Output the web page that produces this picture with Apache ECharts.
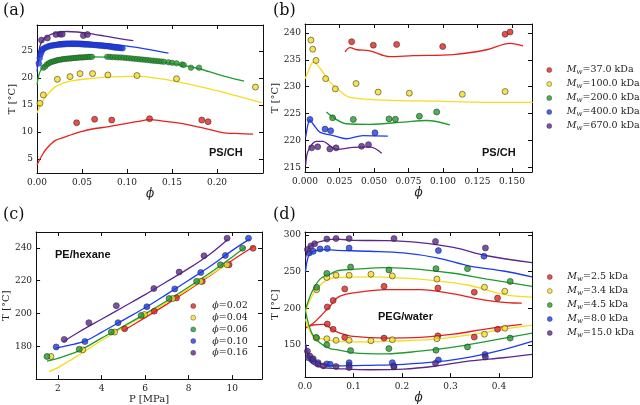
<!DOCTYPE html>
<html><head><meta charset="utf-8">
<script src="https://cdn.jsdelivr.net/npm/echarts@6/dist/echarts.min.js"></script>
<style>html,body{margin:0;padding:0;background:#fff}#c{width:640px;height:405px}</style>
</head><body><div id="c"></div>
<script>
// ---------- Panel (a): PS/CH, T vs phi ----------
const aRedPts = [[0.044,11.7],[0.064,12.35],[0.083,12.2],[0.125,12.45],[0.183,12.2],[0.190,11.9]];
const aRedLine = [[0,3.9],[0.005,5.5],[0.01,6.8],[0.02,8.4],[0.03,9.0],[0.04,9.6],[0.05,10.1],[0.06,10.5],[0.08,11.0],[0.10,11.6],[0.12,12.2],[0.125,12.3],[0.14,12.0],[0.16,11.6],[0.18,10.9],[0.20,10.1],[0.21,9.8],[0.225,9.7],[0.24,9.6]];
const aYelPts = [[0.0033,15.3],[0.007,16.85],[0.0226,19.75],[0.0367,20.25],[0.0478,20.8],[0.0617,20.8],[0.0787,20.55],[0.111,20.45],[0.155,19.85],[0.2426,18.3]];
const aYelLine = [[0,13.5],[0.005,15.3],[0.01,16.6],[0.02,18.3],[0.03,19.1],[0.04,19.5],[0.06,19.9],[0.08,20.2],[0.10,20.3],[0.115,20.3],[0.13,20.0],[0.15,19.5],[0.17,18.8],[0.19,18.0],[0.21,17.2],[0.23,16.3],[0.25,15.4]];
const aGrnPts = [[0.007,21.9],[0.009,22.1],[0.011,22.5],[0.013,22.7],[0.015,22.9],[0.017,23.0],[0.019,23.1],[0.021,23.2],[0.023,23.3],[0.025,23.35],[0.027,23.4],[0.029,23.5],[0.031,23.5],[0.033,23.55],[0.035,23.6],[0.037,23.6],[0.039,23.65],[0.041,23.7],[0.043,23.7],[0.045,23.75],[0.047,23.8],[0.049,23.8],[0.051,23.8],[0.053,23.85],[0.055,23.85],[0.057,23.9],[0.059,23.9],[0.061,23.9],
  [0.078,23.9],[0.081,23.9],[0.084,23.85],[0.087,23.85],[0.090,23.8],[0.093,23.8],[0.096,23.75],[0.099,23.7],[0.102,23.65],[0.105,23.6],[0.108,23.55],[0.111,23.5],[0.114,23.45],[0.117,23.4],[0.120,23.35],[0.123,23.3],[0.126,23.25],[0.129,23.2],[0.132,23.15],[0.135,23.1],[0.138,23.05],[0.141,23.0],[0.146,22.9],[0.150,22.8],[0.155,22.7],[0.161,22.5],[0.163,22.4],[0.171,21.9],[0.180,21.9]];
const aGrnLine = [[0,18.7],[0.002,20.5],[0.005,21.7],[0.01,22.6],[0.02,23.2],[0.03,23.5],[0.045,23.8],[0.06,23.9],[0.08,23.85],[0.10,23.6],[0.12,23.3],[0.14,22.9],[0.16,22.4],[0.18,21.7],[0.20,20.7],[0.215,20.0],[0.23,19.4]];
const aBluPts = [[0.002,22.7],[0.003,23.7],[0.004,24.4],[0.005,24.9],[0.006,25.2],[0.007,25.4],[0.009,25.6],[0.011,25.75],[0.013,25.85],[0.015,25.95],[0.017,26.0],[0.019,26.05],[0.021,26.1],[0.023,26.15],[0.025,26.2],[0.027,26.2],[0.029,26.25],[0.031,26.25],[0.033,26.3],[0.035,26.3],[0.037,26.3],[0.039,26.3],[0.041,26.3],[0.043,26.3],[0.045,26.3],[0.047,26.3],[0.049,26.25],[0.051,26.25],[0.053,26.2],[0.055,26.2],[0.057,26.2],[0.059,26.15],[0.061,26.15],[0.063,26.1],[0.065,26.1],[0.067,26.05],[0.069,26.0],[0.071,26.0],[0.073,25.95],[0.075,25.9],[0.077,25.9],[0.079,25.85],[0.081,25.8],[0.083,25.75],[0.085,25.7],[0.087,25.65],[0.089,25.6],[0.091,25.6],[0.093,25.55],[0.095,25.5]];
const aBluLine = [[0,21.2],[0.002,23.5],[0.005,25.2],[0.01,26.0],[0.02,26.5],[0.03,26.75],[0.04,26.8],[0.05,26.75],[0.06,26.6],[0.08,26.3],[0.10,25.9],[0.12,25.4],[0.146,24.6]];
const aPurPts = [[0.005,27.0],[0.0115,27.4],[0.021,28.05],[0.0256,28.1],[0.028,28.1],[0.0515,27.85],[0.056,28.05]];
const aPurLine = [[0,22.0],[0.002,24.8],[0.004,26.3],[0.008,27.3],[0.014,27.95],[0.02,28.3],[0.033,28.6],[0.045,28.5],[0.055,28.3],[0.07,27.9],[0.081,27.6],[0.095,27.2],[0.107,26.9]];
const aXTicks = [0, 0.05, 0.10, 0.15, 0.20];
const aYTicks = [5, 10, 15, 20, 25];

// ---------- Panel (b): PS/CH, T vs phi ----------
const bNames = ['37.0','100.0','200.0','400.0','670.0'];
const bRedPts = [[0.0338,238.4],[0.0495,237.75],[0.0664,237.9],[0.0998,237.5],[0.145,239.8],[0.1486,240.2]];
const bRedLine = [[0.029,236.5],[0.0326,237.3],[0.0375,236.9],[0.047,236.7],[0.0616,235.6],[0.0785,235.8],[0.1075,236.0],[0.1317,236.9],[0.1486,238.1],[0.158,237.6]];
const bYelPts = [[0.0043,238.7],[0.0056,237.0],[0.008,234.9],[0.015,231.5],[0.022,229.6],[0.037,230.6],[0.053,229.0],[0.0756,228.8],[0.114,228.6],[0.145,229.1]];
const bYelLine = [[0,231.5],[0.002,232.6],[0.004,233.9],[0.006,234.6],[0.011,233.4],[0.018,230.9],[0.025,229.3],[0.0326,228.0],[0.059,227.5],[0.095,227.3],[0.1317,227.1],[0.165,227.1]];
const bGrnPts = [[0.02,224.2],[0.035,223.9],[0.0609,224.0],[0.0655,223.95],[0.0829,224.5],[0.0954,225.3]];
const bGrnLine = [[0.0155,225.3],[0.030,223.1],[0.047,223.0],[0.0712,223.4],[0.088,223.7],[0.105,222.9]];
const bBluPts = [[0.0036,223.9],[0.0145,222.1],[0.0186,221.8],[0.0507,221.4]];
const bBluLine = [[0.0005,220.6],[0.002,222.8],[0.0035,223.8],[0.006,223.0],[0.011,221.5],[0.0205,220.9],[0.030,220.3],[0.042,220.9],[0.060,220.8]];
const bPurPts = [[0.0048,218.6],[0.0092,218.8],[0.018,218.4],[0.0225,218.6],[0.041,218.9],[0.046,219.2]];
const bPurLine = [[0.0005,215.4],[0.0024,218.1],[0.0085,219.8],[0.013,219.8],[0.018,219.0],[0.023,218.3],[0.035,218.7],[0.047,218.8],[0.0556,217.6]];
const bXTicks = [0, 0.025, 0.05, 0.075, 0.10, 0.125, 0.15];
const bYTicks = [215, 220, 225, 230, 235, 240];

// ---------- Panel (c): PE/hexane, T vs P ----------
const cNames = ['0.02','0.04','0.06','0.10','0.16'];
const cRedPts = [[5.06,190.7],[6.42,201.4],[7.44,209.5],[8.62,219.6],[9.85,229.7],[10.95,239.8]];
const cRedLine = [[5,189.5],[6,197.5],[7,205.7],[8,214.3],[9,223.3],[10,232.5],[11,241]];
const cYelPts = [[1.68,173.8],[3.14,177.8],[4.6,188.7],[5.97,199.4],[7.26,209.1],[8.55,219.6],[9.76,229.7]];
const cYelLine = [[1.58,164.5],[2,167],[3,175],[4,183.5],[5,191.5],[6,199],[7,206.8],[8,215],[9,223.7],[9.9,231]];
const cGrnPts = [[1.5,173.8],[2.98,178.2],[4.45,188.7],[5.82,198.8],[7.1,209.1],[8.36,219.6],[9.45,229.7],[10.47,239.8]];
const cGrnLine = [[1.5,171],[2,172.6],[3,177.5],[4,185],[5,192.2],[6,199.8],[7,207.8],[8,216.2],[9,225],[10,234.5],[10.6,240.5]];
const cBluPts = [[1.92,179.6],[3.24,182.9],[4.76,194.4],[6.08,204.1],[7.36,215.0],[8.55,225.0],[9.68,235.4],[10.74,245.9]];
const cBluLine = [[1.88,178.8],[2.5,180.6],[3.24,183.2],[4,188.5],[5,196],[6,203.5],[7,211.8],[8,220.3],[9,229],[10,238.5],[10.8,245.5]];
const cPurPts = [[2.29,184.2],[3.42,194.4],[4.68,204.8],[6.4,215.2],[7.56,225.3],[8.7,235.2],[9.76,245.9]];
const cPurLine = [[2.25,182.8],[3,189],[4,196.5],[5,204],[6,211.5],[7,219.5],[8,227.5],[9,236.5],[9.8,245.3]];
const cXTicks = [2, 4, 6, 8, 10];
const cYTicks = [180, 200, 220, 240];

// ---------- Panel (d): PEG/water, T vs phi ----------
const dNames = ['2.5','3.4','4.5','8.0','15.0'];
const dRedPts = [[0.046,201.7],[0.058,210.6],[0.082,226.3],[0.163,229.9],[0.274,227.6],[0.349,221.8],[0.397,213.8],
  [0.046,178.4],[0.058,171.3],[0.082,160.2],[0.163,159.2],[0.274,162.3],[0.349,160.6],[0.397,171.3]];
const dRedUp = [[0.002,173],[0.017,179.4],[0.034,190.5],[0.052,203.1],[0.062,211.5],[0.072,216.5],[0.1,220.9],[0.168,225.3],[0.237,225.3],[0.306,219.6],[0.375,210.6],[0.43,207.1],[0.447,207]];
const dRedLo = [[0.002,174],[0.017,177.1],[0.038,178],[0.058,170.4],[0.072,166],[0.1,161.5],[0.168,159.3],[0.237,160.2],[0.306,164.6],[0.375,171.8],[0.447,178]];
const dYelPts = [[0.024,225.3],[0.045,242],[0.064,245],[0.091,245],[0.136,246.4],[0.18,244.1],[0.272,239.7],[0.37,228.6],[0.412,223.2],
  [0.024,159.2],[0.045,158.3],[0.064,156.2],[0.091,156.2],[0.136,155.6],[0.18,157],[0.272,158.3],[0.37,164.6],[0.412,172.7]];
const dYelUp = [[0.001,195],[0.017,219.6],[0.038,235.3],[0.065,241.9],[0.134,242.8],[0.203,241],[0.272,237.4],[0.34,231],[0.409,219],[0.468,215]];
const dYelLo = [[0.001,185],[0.017,161.5],[0.038,158.3],[0.065,154.8],[0.134,153.9],[0.203,155.6],[0.272,157.9],[0.34,163.7],[0.409,171.3],[0.468,177]];
const dGrnPts = [[0.024,228.5],[0.045,247.5],[0.094,256.2],[0.173,252.2],[0.27,254],[0.335,254],[0.423,236.6],
  [0.023,160.2],[0.045,150],[0.094,142.2],[0.173,144.9],[0.27,142.7],[0.335,147.2],[0.423,159.2]];
const dGrnUp = [[0.001,198],[0.014,221.8],[0.031,239.7],[0.052,246.4],[0.065,250.8],[0.1,253.1],[0.168,255.4],[0.237,253.1],[0.306,247.7],[0.375,239.7],[0.468,229.9]];
const dGrnLo = [[0.001,196],[0.014,166],[0.031,152.5],[0.052,144.9],[0.065,143.6],[0.1,139.1],[0.168,137.8],[0.237,141.4],[0.306,146.8],[0.375,154.8],[0.468,166]];
const dBluPts = [[0.009,275.5],[0.017,277.6],[0.031,280.8],[0.046,281.5],[0.091,282.2],[0.275,278.6],[0.369,271],
  [0.007,132.4],[0.014,130],[0.017,128],[0.027,125.7],[0.045,124],[0.052,123.5],[0.091,125.7],[0.091,122.1],[0.18,125.7],[0.183,121.3],[0.275,129.4],[0.371,136.9]];
const dBluUp = [[0.001,249],[0.007,271],[0.017,277.6],[0.038,280],[0.065,279],[0.134,277.7],[0.203,275.5],[0.272,268.8],[0.34,257.5],[0.409,250.8],[0.468,242.8]];
const dBluLo = [[0.001,152],[0.007,136.9],[0.017,128],[0.038,123.5],[0.065,121.3],[0.134,122.1],[0.203,123.5],[0.272,127],[0.34,133.4],[0.409,143.6],[0.468,154.8]];
const dPurPts = [[0.005,280],[0.012,285],[0.02,288],[0.045,294.4],[0.064,295],[0.091,295],[0.1835,295],[0.269,291],[0.372,282.2],
  [0.005,141.4],[0.01,134.7],[0.017,131],[0.027,123.5],[0.038,121.3],[0.064,120.4],[0.091,119],[0.1835,120],[0.269,124.8],[0.372,133.4]];
const dPurUp = [[0.001,268],[0.01,284],[0.031,291],[0.065,294.2],[0.1,292.6],[0.168,292.2],[0.237,289.5],[0.306,283],[0.375,271.6],[0.468,262.2]];
const dPurLo = [[0.001,150],[0.007,132.4],[0.017,123.5],[0.038,119],[0.065,117.7],[0.134,116],[0.203,116.8],[0.272,121.3],[0.34,128],[0.409,132.4],[0.468,136.9]];
const dXTicks = [0, 0.1, 0.2, 0.3, 0.4];
const dYTicks = [150, 200, 250, 300];

// ---------- styling ----------
const FONT = 'DejaVu Serif';
const C = {red:'#e6201c', yel:'#f7dc20', grn:'#1f9c2c', blu:'#1d3cf0', pur:'#5c2690'};
const axLine = {show:true, onZero:false, lineStyle:{color:'#111', width:1}};
function xAxes(g, min, max, ticks, dec, name, gap){
  return [
    {type:'value', gridIndex:g, position:'bottom', min:min, max:max,
     axisLine:axLine, splitLine:{show:false},
     axisTick:{show:true, inside:true, length:4, customValues:ticks, lineStyle:{color:'#111'}},
     axisLabel:{customValues:ticks, formatter:v=>Number(v).toFixed(dec), fontFamily:FONT, fontSize:9, color:'#222', margin:5},
     name:name, nameLocation:'middle', nameGap:gap,
     nameTextStyle:{fontFamily:FONT, fontSize:name==='ϕ'?12:10, fontStyle:name==='ϕ'?'italic':'normal', color:'#222'}},
    {type:'value', gridIndex:g, position:'top', min:min, max:max,
     axisLine:axLine, splitLine:{show:false},
     axisTick:{show:true, inside:true, length:4, customValues:ticks, lineStyle:{color:'#111'}},
     axisLabel:{show:false}}
  ];
}
function yAxes(g, min, max, ticks, gap){
  return [
    {type:'value', gridIndex:g, position:'left', min:min, max:max,
     axisLine:axLine, splitLine:{show:false},
     axisTick:{show:true, inside:true, length:4, customValues:ticks, lineStyle:{color:'#111'}},
     axisLabel:{customValues:ticks, fontFamily:FONT, fontSize:9, color:'#222', margin:4},
     name:'T [°C]', nameLocation:'middle', nameGap:gap, nameRotate:90,
     nameTextStyle:{fontFamily:FONT, fontSize:10, color:'#222'}},
    {type:'value', gridIndex:g, position:'right', min:min, max:max,
     axisLine:axLine, splitLine:{show:false},
     axisTick:{show:true, inside:true, length:4, customValues:ticks, lineStyle:{color:'#111'}},
     axisLabel:{show:false}}
  ];
}
function pts(name, data, color, g, size, bw){
  return {type:'scatter', name:name, data:data, xAxisIndex:2*g, yAxisIndex:2*g,
    symbolSize:size||6, itemStyle:{color:color, borderColor:'#2b2b2b', borderWidth:(bw===undefined?0.7:bw)}, z:4, silent:true};
}
function ln(data, color, g){
  return {type:'line', data:data, xAxisIndex:2*g, yAxisIndex:2*g, showSymbol:false, symbol:'none',
    smooth:0.35, lineStyle:{color:color, width:1.3}, z:2, silent:true};
}
const rich = {
  g:{width:10, fontSize:9},
  m:{fontFamily:FONT, fontStyle:'italic', fontSize:9.5, lineHeight:12, color:'#222'},
  s:{fontFamily:FONT, fontStyle:'italic', fontSize:7, lineHeight:7, padding:[5,0,0,0], color:'#222'},
  t:{fontFamily:FONT, fontSize:9.5, lineHeight:12, color:'#222'}
};
const legBase = {orient:'vertical', icon:'circle', itemWidth:5, itemHeight:5, itemGap:2, padding:0,
  itemStyle:{borderWidth:0.5, borderColor:'#333'},
  textStyle:{fontFamily:FONT, fontSize:9.5, color:'#222', rich:rich}, selectedMode:false};

const option = {
  animation:false,
  backgroundColor:'#fff',
  grid:[
    {left:37, top:25, width:226, height:148},
    {left:305, top:24, width:227, height:148},
    {left:34, top:232, width:228, height:148},
    {left:305, top:232, width:227, height:148}
  ],
  xAxis:[].concat(
    xAxes(0, 0, 0.251, aXTicks, 2, 'ϕ', 13),
    xAxes(1, 0, 0.1645, bXTicks, 3, 'ϕ', 13),
    xAxes(2, 1.0, 11.36, cXTicks, 0, 'P [MPa]', 13),
    xAxes(3, 0, 0.468, dXTicks, 1, 'ϕ', 13)),
  yAxis:[].concat(
    yAxes(0, 2.4, 29.8, aYTicks, 19),
    yAxes(1, 214.1, 241.7, bYTicks, 17),
    yAxes(2, 160, 249.7, cYTicks, 21),
    yAxes(3, 106, 304, dYTicks, 18)),
  legend:[
    Object.assign({}, legBase, {data:bNames, left:546.5, top:64,
      formatter:n=>'{g| }{m|M}{s|w}{t|='+n+' kDa}'}),
    Object.assign({}, legBase, {data:cNames, left:190.5, top:301, itemGap:1.7,
      textStyle:{fontFamily:FONT, fontSize:9.5, color:'#222', rich:Object.assign({}, rich, {g:{width:11.5}})},
      formatter:n=>'{g| }{m|ϕ}{t|='+n+'}'}),
    Object.assign({}, legBase, {data:dNames, left:547, top:271,
      formatter:n=>'{g| }{m|M}{s|w}{t|='+n+' kDa}'})
  ],
  graphic:[
    {type:'text', left:3, top:3, style:{text:'(a)', font:'16px "DejaVu Serif"', fill:'#111'}},
    {type:'text', left:273, top:3, style:{text:'(b)', font:'16px "DejaVu Serif"', fill:'#111'}},
    {type:'text', left:3, top:207, style:{text:'(c)', font:'16px "DejaVu Serif"', fill:'#111'}},
    {type:'text', left:273, top:207, style:{text:'(d)', font:'16px "DejaVu Serif"', fill:'#111'}},
    {type:'text', left:209, top:147, style:{text:'PS/CH', font:'bold 11px "Liberation Sans"', fill:'#111'}},
    {type:'text', left:482, top:147, style:{text:'PS/CH', font:'bold 11px "Liberation Sans"', fill:'#111'}},
    {type:'text', left:55, top:249, style:{text:'PE/hexane', font:'bold 11px "Liberation Sans"', fill:'#111'}},
    {type:'text', left:378, top:311, style:{text:'PEG/water', font:'bold 11px "Liberation Sans"', fill:'#111'}}
  ],
  series:[
    ln(aRedLine, C.red, 0), ln(aYelLine, C.yel, 0), ln(aGrnLine, C.grn, 0), ln(aBluLine, C.blu, 0), ln(aPurLine, C.pur, 0),
    pts('a1', aRedPts, C.red, 0), pts('a2', aYelPts, C.yel, 0), pts('a3', aGrnPts, C.grn, 0, 5.5, 0.5), pts('a4', aBluPts, C.blu, 0, 6, 0.3), pts('a5', aPurPts, C.pur, 0),
    ln(bRedLine, C.red, 1), ln(bYelLine, C.yel, 1), ln(bGrnLine, C.grn, 1), ln(bBluLine, C.blu, 1), ln(bPurLine, C.pur, 1),
    pts(bNames[0], bRedPts, C.red, 1), pts(bNames[1], bYelPts, C.yel, 1), pts(bNames[2], bGrnPts, C.grn, 1), pts(bNames[3], bBluPts, C.blu, 1), pts(bNames[4], bPurPts, C.pur, 1),
    ln(cRedLine, C.red, 2), ln(cYelLine, C.yel, 2), ln(cGrnLine, C.grn, 2), ln(cBluLine, C.blu, 2), ln(cPurLine, C.pur, 2),
    pts(cNames[0], cRedPts, C.red, 2), pts(cNames[1], cYelPts, C.yel, 2), pts(cNames[2], cGrnPts, C.grn, 2), pts(cNames[3], cBluPts, C.blu, 2), pts(cNames[4], cPurPts, C.pur, 2),
    ln(dRedUp, C.red, 3), ln(dRedLo, C.red, 3), ln(dYelUp, C.yel, 3), ln(dYelLo, C.yel, 3), ln(dGrnUp, C.grn, 3), ln(dGrnLo, C.grn, 3),
    ln(dBluUp, C.blu, 3), ln(dBluLo, C.blu, 3), ln(dPurUp, C.pur, 3), ln(dPurLo, C.pur, 3),
    pts(dNames[0], dRedPts, C.red, 3), pts(dNames[1], dYelPts, C.yel, 3), pts(dNames[2], dGrnPts, C.grn, 3), pts(dNames[3], dBluPts, C.blu, 3), pts(dNames[4], dPurPts, C.pur, 3)
  ]
};
const chart = echarts.init(document.getElementById('c'), null, {renderer:'canvas'});
chart.setOption(option);
</script></body></html>
